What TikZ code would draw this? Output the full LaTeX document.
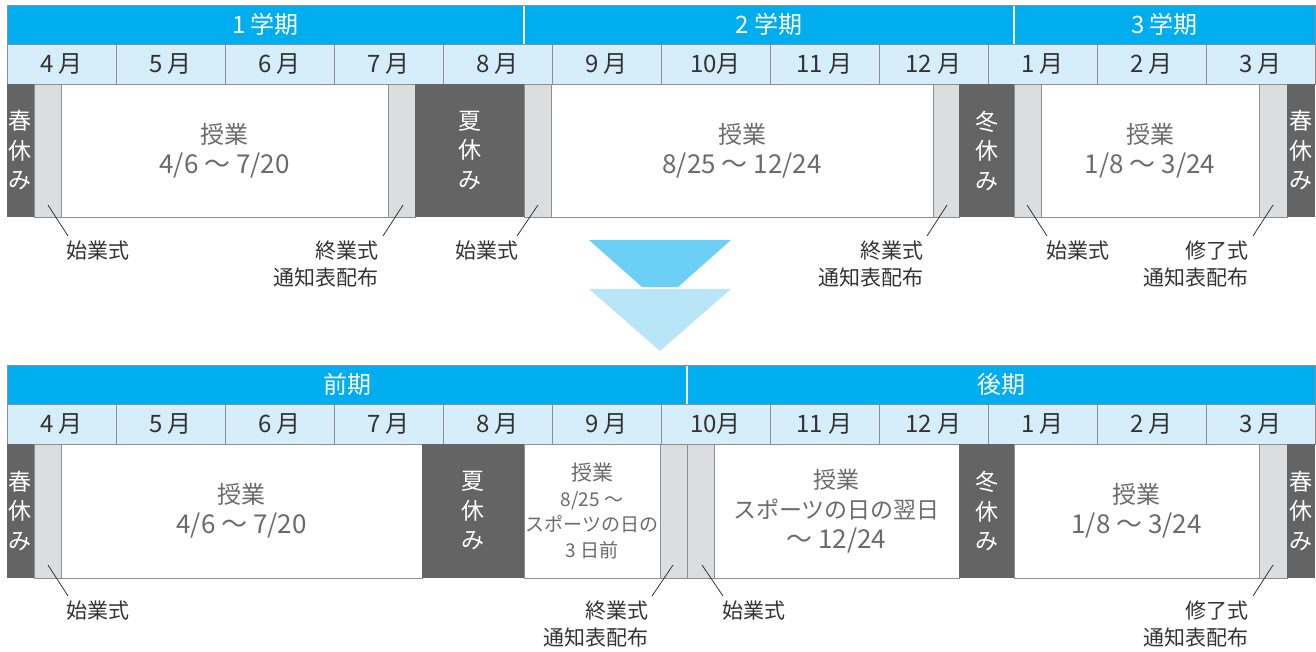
\documentclass[tikz,border=0pt]{standalone}
\usepackage{fontspec}
\setmainfont{Noto Sans CJK JP}
\definecolor{hblue}{HTML}{00AEEF}
\definecolor{mblue}{HTML}{D5EEFA}
\definecolor{dgray}{HTML}{646464}
\definecolor{bgray}{HTML}{DCDDDF}
\definecolor{lgray}{HTML}{8E8E8E}
\definecolor{mtext}{HTML}{333333}
\definecolor{btext}{HTML}{6B6B6B}
\definecolor{ltext}{HTML}{333333}
\definecolor{arrA}{HTML}{6CCFF6}
\definecolor{arrB}{HTML}{B9E5F9}
\newcommand\blk[7]{%
  \pgfmathsetmacro\bw{#4-#3}\pgfmathsetmacro\bh{#6-#5}%
  \node[#1, minimum width=\bw pt, minimum height=\bh pt, anchor=north west, inner sep=0pt, outer sep=0pt] (#2) at (#3,#5) {#7};}
\newcommand\numl[1]{{\fontsize{26}{30}\selectfont #1}}
\tikzset{
  hdr/.style={fill=hblue, draw=lgray, line width=0.8pt, text=white, font=\fontsize{24}{24}\selectfont},
  mon/.style={fill=mblue, draw=lgray, line width=0.8pt, text=mtext, font=\fontsize{24}{24}\selectfont},
  rest/.style={fill=dgray, text=white, font=\fontsize{23}{29.5}\selectfont, align=center},
  bar/.style={fill=bgray, draw=lgray, line width=0.8pt},
  lesson/.style={fill=white, draw=lgray, line width=0.8pt, text=btext, font=\fontsize{24}{30}\selectfont, align=center},
  lbl/.style={text=ltext, font=\fontsize{21}{27}\selectfont, inner sep=0pt},
  leader/.style={draw=ltext, line width=0.8pt},
  divider/.style={draw=white, line width=1.6pt},
}
\begin{document}
\begin{tikzpicture}[x=1pt,y=-1pt]
\useasboundingbox (0,0) rectangle (1316,651);
% ================= TOP TABLE =================
\blk{hdr}{p1}{7}{524}{5}{44}{1 学期}
\blk{hdr}{p2}{524}{1014}{5}{44}{2 学期}
\blk{hdr}{p3}{1014}{1315}{5}{44}{3 学期}
\draw[divider] ([yshift=-0.5pt]p1.north east) -- ([yshift=0.5pt]p1.south east);
\draw[divider] ([yshift=-0.5pt]p2.north east) -- ([yshift=0.5pt]p2.south east);
\blk{mon}{ta4}{7}{116}{44}{84}{4 月}
\blk{mon}{ta5}{116}{225}{44}{84}{5 月}
\blk{mon}{ta6}{225}{334}{44}{84}{6 月}
\blk{mon}{ta7}{334}{443}{44}{84}{7 月}
\blk{mon}{ta8}{443}{552}{44}{84}{8 月}
\blk{mon}{ta9}{552}{661}{44}{84}{9 月}
\blk{mon}{ta10}{661}{770}{44}{84}{10月}
\blk{mon}{ta11}{770}{879}{44}{84}{11 月}
\blk{mon}{ta12}{879}{988}{44}{84}{12 月}
\blk{mon}{ta1}{988}{1097}{44}{84}{1 月}
\blk{mon}{ta2}{1097}{1206}{44}{84}{2 月}
\blk{mon}{ta3}{1206}{1315}{44}{84}{3 月}
% body
\blk{lesson}{tw1}{61}{388}{84}{217}{授業\\\numl{4/6 ～ 7/20}}
\blk{lesson}{tw2}{551}{933}{84}{217}{授業\\\numl{8/25 ～ 12/24}}
\blk{lesson}{tw3}{1041}{1259}{84}{217}{授業\\\numl{1/8 ～ 3/24}}
\blk{rest}{td1}{7}{34}{84}{217}{春\\休\\み}
\blk{bar}{tg1}{34}{61}{84}{217}{}
\blk{bar}{tg2}{388}{415}{84}{217}{}
\blk{rest}{td2}{415}{524}{84}{217}{夏\\休\\み}
\blk{bar}{tg3}{524}{551}{84}{217}{}
\blk{bar}{tg4}{933}{959}{84}{217}{}
\blk{rest}{td3}{959}{1014}{84}{217}{冬\\休\\み}
\blk{bar}{tg5}{1014}{1041}{84}{217}{}
\blk{bar}{tg6}{1259}{1287}{84}{217}{}
\blk{rest}{td4}{1287}{1315}{84}{217}{春\\休\\み}
% labels
\node[lbl, anchor=north west] (tl1) at (66,241) {始業式};
\node[lbl, anchor=north east, align=right] (tl2) at (379,241) {終業式\\通知表配布};
\node[lbl, anchor=north east] (tl3) at (519,241) {始業式};
\node[lbl, anchor=north east, align=right] (tl4) at (924,241) {終業式\\通知表配布};
\node[lbl, anchor=north west] (tl5) at (1046,241) {始業式};
\node[lbl, anchor=north east, align=right] (tl6) at (1249,241) {修了式\\通知表配布};
\coordinate (ta) at (48,205);
\coordinate (tb) at (403,205);
\coordinate (tc) at (538,205);
\coordinate (td) at (947,205);
\coordinate (te) at (1027,205);
\coordinate (tf) at (1273,205);
\draw[leader] (ta) -- ([shift={(2,-5)}]tl1.north west);
\draw[leader] (tb) -- ([shift={(4,-5)}]tl2.north east);
\draw[leader] (tc) -- ([shift={(-2,-5)}]tl3.north east);
\draw[leader] (td) -- ([shift={(3,-5)}]tl4.north east);
\draw[leader] (te) -- ([shift={(1,-5)}]tl5.north west);
\draw[leader] (tf) -- ([shift={(4,-5)}]tl6.north east);
% ================= ARROWS =================
\fill[arrA] (589,240) -- (731,240) -- (678,287) -- (642,287) -- cycle;
\fill[arrB] (589,289) -- (731,289) -- (660,351) -- cycle;
% ================= BOTTOM TABLE =================
\blk{hdr}{q1}{7}{687}{365}{404}{前期}
\blk{hdr}{q2}{687}{1315}{365}{404}{後期}
\draw[divider] ([yshift=-0.5pt]q1.north east) -- ([yshift=0.5pt]q1.south east);
\blk{mon}{ba4}{7}{116}{404}{444}{4 月}
\blk{mon}{ba5}{116}{225}{404}{444}{5 月}
\blk{mon}{ba6}{225}{334}{404}{444}{6 月}
\blk{mon}{ba7}{334}{443}{404}{444}{7 月}
\blk{mon}{ba8}{443}{552}{404}{444}{8 月}
\blk{mon}{ba9}{552}{661}{404}{444}{9 月}
\blk{mon}{ba10}{661}{770}{404}{444}{10月}
\blk{mon}{ba11}{770}{879}{404}{444}{11 月}
\blk{mon}{ba12}{879}{988}{404}{444}{12 月}
\blk{mon}{ba1}{988}{1097}{404}{444}{1 月}
\blk{mon}{ba2}{1097}{1206}{404}{444}{2 月}
\blk{mon}{ba3}{1206}{1315}{404}{444}{3 月}
% body
\blk{lesson}{bw1}{61}{422}{444}{578}{授業\\\numl{4/6 ～ 7/20}}
\blk{lesson, font=\fontsize{19}{25.5}\selectfont}{bw2}{524}{660}{444}{578}{{\fontsize{21}{25.5}\selectfont 授業}\\8/25 ～\\スポーツの日の\\3 日前}
\blk{lesson, font=\fontsize{23}{30}\selectfont}{bw3}{714}{959}{444}{578}{授業\\スポーツの日の翌日\\\numl{～ 12/24}}
\blk{lesson}{bw4}{1014}{1259}{444}{578}{授業\\\numl{1/8 ～ 3/24}}
\blk{rest}{bd1}{7}{34}{444}{578}{春\\休\\み}
\blk{bar}{bg1}{34}{61}{444}{578}{}
\blk{rest}{bd2}{422}{524}{444}{578}{夏\\休\\み}
\blk{bar}{bg2}{660}{687}{444}{578}{}
\blk{bar}{bg3}{687}{714}{444}{578}{}
\blk{rest}{bd3}{959}{1014}{444}{578}{冬\\休\\み}
\blk{bar}{bg4}{1259}{1287}{444}{578}{}
\blk{rest}{bd4}{1287}{1315}{444}{578}{春\\休\\み}
% labels
\node[lbl, anchor=north west] (bl1) at (66,601) {始業式};
\node[lbl, anchor=north east, align=right] (bl2) at (649,601) {終業式\\通知表配布};
\node[lbl, anchor=north west] (bl3) at (722,601) {始業式};
\node[lbl, anchor=north east, align=right] (bl4) at (1249,601) {修了式\\通知表配布};
\coordinate (ba) at (48,565);
\coordinate (bb) at (673,565);
\coordinate (bc) at (702,565);
\coordinate (bd) at (1273,565);
\draw[leader] (ba) -- ([shift={(2,-5)}]bl1.north west);
\draw[leader] (bb) -- ([shift={(3,-5)}]bl2.north east);
\draw[leader] (bc) -- ([shift={(1,-5)}]bl3.north west);
\draw[leader] (bd) -- ([shift={(4,-5)}]bl4.north east);
\end{tikzpicture}
\end{document}
